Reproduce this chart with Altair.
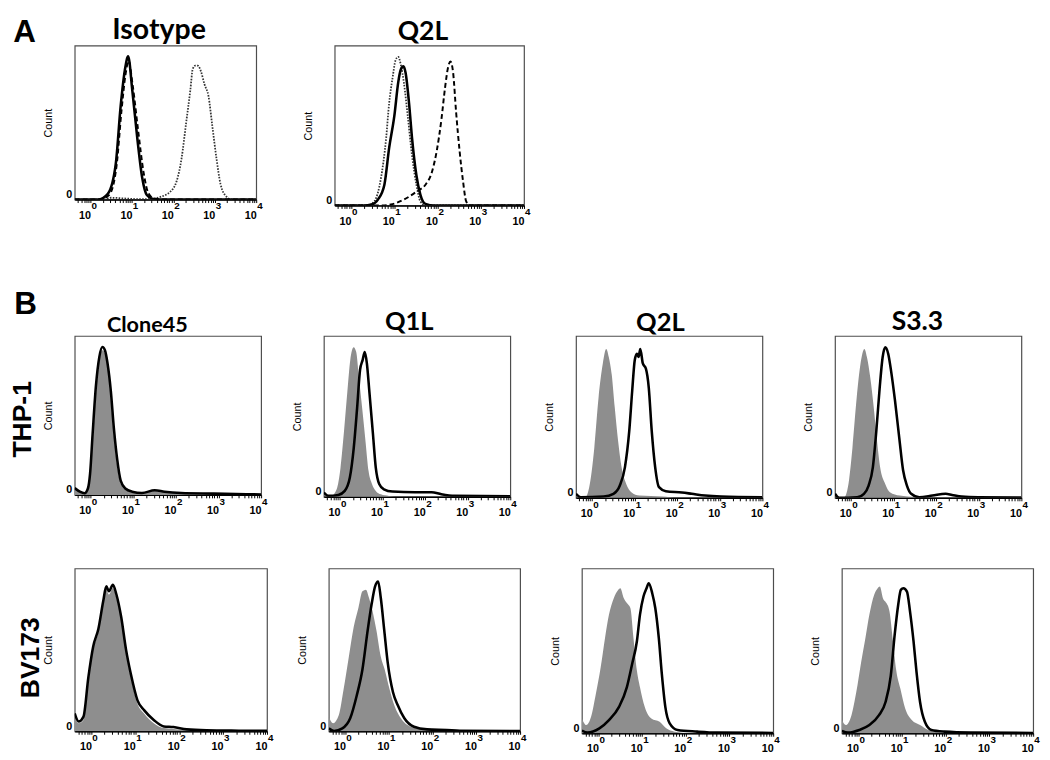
import math
import pandas as pd
import altair as alt

# ---------------- data: (log10 fluorescence, count as % of panel height) ----------------
# Panel A - Isotype
ISO_DOT = [(-0.38, 0), (0.3, 0), (0.5, 1.2), (0.8, 0.8), (1.2, 0.3), (1.5, 0.5), (1.68, 1.7), (1.92, 5),
           (2.08, 12), (2.2, 27), (2.31, 50), (2.41, 71), (2.47, 85), (2.53, 87), (2.59, 87), (2.67, 83),
           (2.75, 75), (2.85, 67), (2.94, 48), (3.04, 27), (3.14, 10), (3.28, 2), (3.42, 0), (4.0, 0)]
ISO_DASH = [(-0.38, 0), (0.2, 0), (0.45, 3), (0.63, 22), (0.75, 58), (0.85, 82), (0.92, 90), (1.02, 74),
            (1.15, 45), (1.28, 18), (1.4, 4), (1.55, 0.5), (1.8, 0), (4.0, 0)]
ISO_SOLID = [(-0.38, 0), (0.18, 0), (0.42, 3.8), (0.61, 23), (0.73, 61), (0.83, 84), (0.91, 93), (1.01, 71),
             (1.13, 40), (1.25, 14), (1.36, 3), (1.52, 0.4), (1.8, 0), (4.0, 0)]
# Panel A - Q2L
Q2LA_DOT = [(-0.38, 0), (0.39, 0), (0.54, 2.7), (0.69, 17), (0.81, 42), (0.88, 64), (0.96, 80), (1.03, 91),
            (1.09, 93), (1.15, 88), (1.22, 77), (1.31, 56), (1.41, 31), (1.51, 13), (1.6, 2.7), (1.72, 0), (4.0, 0)]
Q2LA_SOLID = [(-0.38, 0), (0.3, 0), (0.47, 0.6), (0.62, 3.7), (0.77, 13), (0.88, 36), (1.0, 56), (1.09, 77),
              (1.15, 85), (1.21, 87), (1.26, 83), (1.34, 64), (1.41, 42), (1.51, 19), (1.6, 7), (1.72, 1),
              (1.92, 0), (4.0, 0)]
Q2LA_DASH = [(-0.38, 0), (0.7, 0), (0.92, 0.6), (1.22, 3.7), (1.53, 9), (1.72, 13), (1.87, 21), (1.98, 34),
             (2.09, 54), (2.17, 73), (2.24, 86), (2.3, 90), (2.36, 83), (2.43, 58), (2.51, 34), (2.59, 15),
             (2.66, 2.7), (2.74, 0), (4.0, 0)]
# Panel B - THP-1
THP_C45_FILL = [(-0.38, 3), (-0.26, 1.5), (-0.15, 0.5), (-0.07, 3), (-0.02, 11), (0.05, 36), (0.13, 67),
                (0.2, 85), (0.27, 91), (0.33, 89), (0.39, 81), (0.46, 63), (0.53, 40), (0.61, 20), (0.69, 8),
                (0.8, 3.5), (0.97, 1.5), (1.2, 1), (1.5, 2.5), (1.73, 1.6), (2.12, 1), (2.89, 0.6), (3.66, 0.3),
                (4.0, 0.2)]
THP_C45_LINE = [(-0.38, 4.3), (-0.26, 2), (-0.15, 1), (-0.07, 4), (-0.02, 13), (0.04, 38), (0.12, 69),
                (0.2, 87), (0.27, 93), (0.33, 91), (0.39, 83), (0.47, 65), (0.54, 42), (0.62, 22), (0.7, 9),
                (0.81, 4), (0.97, 2), (1.2, 1.2), (1.5, 2.9), (1.73, 2), (2.12, 1.2), (2.89, 0.8), (3.66, 0.4),
                (4.0, 0.3)]
THP_Q1L_FILL = [(-0.38, 0), (-0.2, 0.6), (-0.08, 4.7), (0.01, 18), (0.09, 40), (0.17, 65), (0.24, 85),
                (0.32, 93), (0.38, 90), (0.44, 75), (0.52, 55), (0.6, 34), (0.67, 16), (0.75, 8), (0.84, 3.7),
                (0.96, 1.6), (1.15, 0.6), (1.4, 0), (4.0, 0)]
THP_Q1L_LINE = [(-0.38, 2.7), (-0.27, 0.6), (-0.04, 1.2), (0.11, 3.7), (0.23, 12), (0.32, 30), (0.4, 55),
                (0.47, 79), (0.53, 85), (0.58, 90), (0.63, 83), (0.69, 65), (0.77, 40), (0.84, 18), (0.92, 8),
                (1.03, 4.7), (1.23, 3.3), (1.76, 2.9), (2.15, 2.9), (2.38, 1.6), (2.69, 0.6), (4.0, 0.3)]
THP_Q2L_FILL = [(-0.38, 0), (-0.16, 0.4), (-0.04, 11), (0.05, 31), (0.15, 62), (0.25, 83), (0.33, 92),
                (0.39, 87), (0.46, 76), (0.53, 56), (0.61, 35), (0.69, 19), (0.8, 8.6), (0.92, 3.5), (1.11, 1.4),
                (1.65, 0.8), (2.0, 0), (4.0, 0)]
THP_Q2L_LINE = [(-0.38, 2.5), (-0.27, 0.4), (0.27, 0.8), (0.5, 2.5), (0.65, 7.6), (0.77, 19), (0.87, 41),
                (0.94, 66), (1.0, 85), (1.05, 89), (1.09, 87), (1.13, 92), (1.19, 83), (1.26, 80), (1.33, 68),
                (1.4, 41), (1.48, 19), (1.57, 6.6), (1.73, 4.1), (2.11, 3.3), (2.34, 2.5), (2.65, 1.4),
                (3.03, 0.8), (4.0, 0.4)]
THP_S33_FILL = [(-0.38, 0), (-0.16, 0.4), (-0.05, 11), (0.03, 31), (0.13, 62), (0.22, 83), (0.31, 92),
                (0.37, 87), (0.45, 74), (0.53, 56), (0.6, 37), (0.68, 19), (0.8, 8.6), (0.91, 3.5), (1.14, 1.4),
                (1.5, 0.5), (2.0, 0), (4.0, 0)]
THP_S33_LINE = [(-0.38, 2.5), (-0.28, 0), (0.14, 0.4), (0.3, 2.5), (0.41, 7.6), (0.51, 19), (0.59, 41),
                (0.67, 68), (0.74, 87), (0.8, 93), (0.87, 89), (0.94, 78), (1.03, 60), (1.13, 37), (1.22, 17),
                (1.31, 7.6), (1.41, 2.5), (1.6, 0.4), (1.91, 1.4), (2.22, 2.5), (2.37, 1.8), (2.6, 0.8),
                (2.99, 0.4), (4.0, 0.2)]
# Panel B - BV173
BV_C45_FILL = [(-0.38, 9), (-0.29, 5), (-0.18, 7), (-0.07, 30), (0.04, 50), (0.16, 61), (0.27, 78), (0.34, 87),
               (0.4, 84), (0.49, 88), (0.57, 82), (0.68, 68), (0.79, 48), (0.9, 33), (1.05, 17), (1.2, 11),
               (1.42, 5), (1.65, 2), (1.87, 1.5), (2.17, 0.6), (2.62, 0.3), (3.36, 0.2), (4.0, 0.1)]
BV_C45_LINE = [(-0.38, 11), (-0.29, 6), (-0.18, 9), (-0.07, 33), (0.04, 52), (0.16, 63), (0.27, 80), (0.34, 89),
               (0.4, 86), (0.49, 90), (0.57, 84), (0.68, 70), (0.79, 50), (0.9, 35), (1.05, 19), (1.2, 13),
               (1.42, 7), (1.65, 3), (1.87, 2.6), (2.17, 1.2), (2.62, 0.6), (3.36, 0.4), (4.0, 0.3)]
BV_Q1L_FILL = [(-0.38, 9), (-0.28, 5), (-0.15, 10), (-0.04, 26), (0.08, 46), (0.19, 64), (0.3, 76), (0.39, 86),
               (0.47, 87), (0.54, 82), (0.62, 74), (0.71, 62), (0.81, 46), (0.9, 38), (1.01, 26), (1.12, 16),
               (1.27, 8), (1.5, 2.8), (1.8, 1.2), (2.2, 0.3), (4.0, 0)]
BV_Q1L_LINE = [(-0.38, 1.8), (-0.26, 0.2), (-0.07, 1.8), (0.11, 8), (0.26, 22), (0.39, 38), (0.51, 62),
               (0.6, 78), (0.68, 89), (0.75, 92), (0.81, 82), (0.89, 62), (0.97, 42), (1.09, 24), (1.2, 16),
               (1.35, 8), (1.57, 2.8), (1.87, 1.2), (2.32, 0.8), (2.62, 0.4), (4.0, 0.2)]
BV_Q2L_FILL = [(-0.38, 9), (-0.28, 5), (-0.17, 10), (-0.06, 24), (0.05, 40), (0.15, 58), (0.24, 72), (0.35, 82),
               (0.45, 87), (0.5, 88), (0.58, 82), (0.65, 79), (0.73, 76), (0.8, 58), (0.88, 38), (0.95, 28),
               (1.06, 16), (1.21, 9), (1.4, 7), (1.55, 3), (1.74, 1), (2.1, 0.2), (4.0, 0)]
BV_Q2L_LINE = [(-0.38, 1.6), (-0.25, 0.4), (0.02, 3), (0.24, 8), (0.47, 16), (0.65, 28), (0.77, 42), (0.88, 56),
               (0.95, 72), (1.03, 83), (1.1, 88), (1.15, 91), (1.23, 85), (1.3, 76), (1.38, 58), (1.45, 36),
               (1.53, 16), (1.63, 6), (1.81, 2), (2.26, 1), (2.71, 0.4), (4.0, 0.2)]
BV_S33_FILL = [(-0.38, 8), (-0.29, 5), (-0.16, 11), (-0.05, 25), (0.06, 43), (0.16, 58), (0.25, 72), (0.36, 84),
               (0.44, 88), (0.49, 89), (0.56, 82), (0.64, 79), (0.71, 74), (0.79, 56), (0.86, 39), (0.96, 27),
               (1.07, 15), (1.22, 8), (1.41, 5), (1.6, 2), (1.82, 0.6), (2.2, 0), (4.0, 0)]
BV_S33_LINE = [(-0.38, 1.4), (-0.24, 0.4), (0.02, 2), (0.25, 5), (0.47, 11), (0.62, 19), (0.74, 35), (0.83, 60),
               (0.91, 78), (0.97, 87), (1.03, 88), (1.11, 86), (1.18, 74), (1.26, 56), (1.33, 37), (1.41, 19),
               (1.52, 7), (1.67, 2), (1.97, 1), (2.57, 0.4), (4.0, 0.2)]

# axis tick labels
TICK_EXPONENTS = [0, 1, 2, 3, 4]
TICK_EXP_TEXT = ["0", "1", "2", "3", "4"]
X_DOMAIN = [-0.38, 4.0]
MINOR_TICKS = [round(d + math.log10(k), 4) for d in range(-1, 4) for k in range(2, 10)
               if X_DOMAIN[0] <= d + math.log10(k) <= X_DOMAIN[1]]

# ---------------- styling ----------------
GRAY = "#8e8e8e"
AXIS_FONT = "Liberation Sans"
TITLE_FONT = "Lato"
STYLES = {
    "solid": dict(color="black", strokeWidth=2.6),
    "dash": dict(color="black", strokeWidth=2.0, strokeDash=[5, 3]),
    "dot": dict(color="#333333", strokeWidth=1.8, strokeDash=[1.6, 1.4]),
}

X_ENC = alt.X(
    "lx:Q",
    scale=alt.Scale(domain=X_DOMAIN, nice=False, zero=False),
    axis=alt.Axis(values=TICK_EXPONENTS + MINOR_TICKS,
                  labelExpr="datum.value == round(datum.value) ? '10' : ''",
                  title=None, grid=False, domainColor="black", domainWidth=1.5,
                  tickColor="black", tickWidth=1, tickSize=3, labelAlign="right",
                  labelPadding=7, labelFont=AXIS_FONT, labelFontSize=11, labelFontWeight="bold",
                  labelColor="black", labelOverlap=False, labelFlush=False),
)
Y_ENC = alt.Y(
    "y:Q",
    scale=alt.Scale(domain=[0, 100], nice=False),
    axis=alt.Axis(values=[0], title="Count", titleFont=AXIS_FONT, titleFontSize=11,
                  titleFontWeight="normal", titleColor="black", titlePadding=13,
                  labelFont=AXIS_FONT, labelFontSize=11, labelFontWeight="bold", labelColor="black",
                  labelPadding=3, labelBaseline="bottom", ticks=False, domain=False, grid=False),
)


def text_layer(txt, x, y, size, angle=0, font=AXIS_FONT, baseline="middle"):
    return alt.Chart(pd.DataFrame({"t": [txt]})).mark_text(
        font=font, fontWeight="bold", fontSize=size, angle=angle, color="black",
        align="center", baseline=baseline).encode(x=alt.value(x), y=alt.value(y), text="t:N")


def panel(box, cell, curves, fill=None, title=None, extras=()):
    """box = plot area (left, top, width, height); cell = layout frame (x0, x1, y0, y1), page pixels."""
    L, T, W, H = box
    x0, x1, y0, y1 = cell
    layers = [
        alt.Chart(pd.DataFrame({"s": [0]})).mark_rect(opacity=0).encode(
            x=alt.value(x0 - L), x2=alt.value(x1 - L), y=alt.value(y0 - T), y2=alt.value(y1 - T))
    ]
    if fill is not None:
        layers.append(alt.Chart(pd.DataFrame(fill, columns=["lx", "y"])).mark_area(
            color=GRAY, interpolate="monotone", clip=True).encode(x=X_ENC, y=Y_ENC))
    for pts, style in curves:
        layers.append(alt.Chart(pd.DataFrame(pts, columns=["lx", "y"])).mark_line(
            interpolate="monotone", clip=True, **STYLES[style]).encode(x=X_ENC, y=Y_ENC))
    layers.append(alt.Chart(pd.DataFrame({"lx": TICK_EXPONENTS, "e": TICK_EXP_TEXT})).mark_text(
        align="left", baseline="middle", dx=1, font=AXIS_FONT, fontSize=10, fontWeight="bold",
        color="black").encode(x=X_ENC, y=alt.value(H + 7), text="e:N"))
    if title is not None:
        text, size, tx, ty = title
        layers.append(text_layer(text, tx, ty, size, font=TITLE_FONT, baseline="alphabetic"))
    for txt, dx, dy, size, angle in extras:
        layers.append(text_layer(txt, dx, dy, size, angle))
    return alt.layer(*layers).properties(width=W, height=H)


# row A: shared plot top 38
rowA = alt.hconcat(
    panel((73, 38, 185, 157), (8, 290, 8, 278),
          [(ISO_DOT, "dot"), (ISO_DASH, "dash"), (ISO_SOLID, "solid")],
          title=("Isotype", 29, 86, -7), extras=[("A", -51, -14, 32, 0)]),
    panel((336, 38, 193, 163), (290, 545, 8, 278),
          [(Q2LA_DOT, "dot"), (Q2LA_SOLID, "solid"), (Q2LA_DASH, "dash")],
          title=("Q2L", 27, 90, -6)),
    spacing=0,
)
# row B1: shared plot top 332
rowB1 = alt.hconcat(
    panel((75, 332, 190, 162), (8, 290, 278, 535), [(THP_C45_LINE, "solid")], fill=THP_C45_FILL,
          title=("Clone45", 22, 74, -4),
          extras=[("B", -50, -32, 32, 0), ("THP-1", -53, 85, 27, 270)]),
    panel((327, 332, 190, 164), (290, 545, 278, 535), [(THP_Q1L_LINE, "solid")], fill=THP_Q1L_FILL,
          title=("Q1L", 26, 87, -6)),
    panel((582, 332, 190, 165), (545, 805, 278, 535), [(THP_Q2L_LINE, "solid")], fill=THP_Q2L_FILL,
          title=("Q2L", 26, 86, -5)),
    panel((844, 332, 190, 165), (805, 1045, 278, 535), [(THP_S33_LINE, "solid")], fill=THP_S33_FILL,
          title=("S3.3", 27, 84, -6)),
    spacing=0,
)
# row B2: shared plot top 567
rowB2 = alt.hconcat(
    panel((66, 567, 196, 166), (8, 285, 535, 758), [(BV_C45_LINE, "solid")], fill=BV_C45_FILL,
          extras=[("BV173", -44, 91, 27, 270)]),
    panel((323, 567, 195, 166), (285, 543, 535, 758), [(BV_Q1L_LINE, "solid")], fill=BV_Q1L_FILL),
    panel((579, 567, 195, 168), (543, 805, 535, 758), [(BV_Q2L_LINE, "solid")], fill=BV_Q2L_FILL),
    panel((842, 567, 195, 168), (805, 1045, 535, 758), [(BV_S33_LINE, "solid")], fill=BV_S33_FILL),
    spacing=0,
)

chart = alt.vconcat(rowA, rowB1, rowB2, spacing=0).properties(
    padding=0, background="white"
).configure_view(stroke="#4d4d4d", strokeWidth=1.2)

chart.save("out.html", embed_options={"renderer": "svg", "actions": False})
